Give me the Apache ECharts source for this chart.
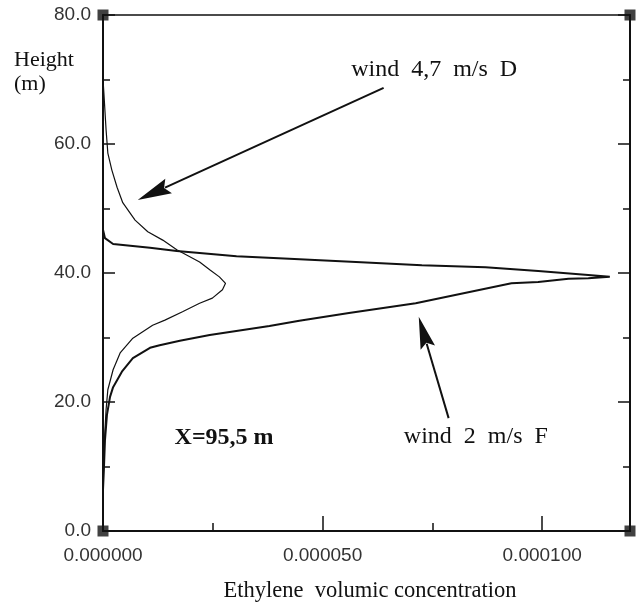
<!DOCTYPE html>
<html>
<head>
<meta charset="utf-8">
<script src="https://cdn.jsdelivr.net/npm/echarts@6/dist/echarts.min.js"></script>
<style>
html,body{margin:0;padding:0;background:#fff;}
#c{width:640px;height:605px;}
</style>
</head>
<body>
<div id="c"></div>
<script>
// ---- data (x = ethylene volumic concentration, y = height in m) ----
const xMin = 0, xMax = 0.00012, xMajor = 0.00005, xMinor = 0.000025;
const yMin = 0, yMax = 80, yMajor = 20;

// wind 2 m/s, stability F
const windF = [
  [0, 80], [0, 46.7], [0.00000045, 45.4], [0.0000023, 44.5], [0.0000107, 43.9],
  [0.0000168, 43.4], [0.000022, 43.1], [0.0000304, 42.6], [0.0000424, 42.2],
  [0.0000576, 41.7], [0.0000726, 41.2], [0.0000871, 40.9], [0.0000991, 40.3],
  [0.0001105, 39.7], [0.0001154, 39.4], [0.0001105, 39.2], [0.000106, 39.1],
  [0.0000991, 38.6], [0.000093, 38.4], [0.0000712, 35.3], [0.000056, 33.8],
  [0.0000447, 32.6], [0.0000379, 31.8], [0.0000243, 30.4], [0.0000175, 29.5],
  [0.0000129, 28.8], [0.0000107, 28.4], [0.0000068, 26.8], [0.0000043, 24.7],
  [0.0000023, 22.3], [0.0000016, 20.8], [0.0000009, 18.0], [0.00000045, 14.1],
  [0.0000002, 9.5], [0, 6.4], [0, 0]
];

// wind 4,7 m/s, stability D
const windD = [
  [0, 80], [0, 70], [0.0000002, 67.9], [0.0000007, 62.2], [0.0000011, 58.6],
  [0.000002, 56.0], [0.0000032, 53.3], [0.0000045, 50.9], [0.0000073, 48.2],
  [0.0000102, 46.4], [0.0000136, 45.1], [0.0000168, 43.6], [0.000022, 41.7],
  [0.0000243, 40.5], [0.0000265, 39.4], [0.0000279, 38.4], [0.0000272, 37.4],
  [0.0000249, 36.1], [0.000022, 35.3], [0.0000181, 34.0], [0.0000141, 32.7],
  [0.0000113, 31.9], [0.0000068, 29.9], [0.0000039, 27.6], [0.0000023, 25.0],
  [0.0000011, 21.9], [0.0000007, 18.8], [0.0000002, 12.6], [0, 7.9], [0, 0]
];

const corners = [[xMin, yMin], [xMin, yMax], [xMax, yMin], [xMax, yMax]];

// annotation anchors (data coords)
const arrowD = { from: [0.0000639, 68.7], to: [0.0000079, 51.3] };
const arrowF = { from: [0.0000787, 17.5], to: [0.0000719, 33.2] };
const textD = { pos: [0.0000565, 71.5], text: 'wind\u20024,7\u2002m/s\u2002D' };
const textF = { pos: [0.0000685, 14.6], text: 'wind\u20022\u2002m/s\u2002F' };
const textX = { pos: [0.0000163, 14.4], text: 'X=95,5 m' };

const ink = '#111';
const tickFont = { fontFamily: 'Liberation Sans', fontSize: 19, color: '#333' };

const chart = echarts.init(document.getElementById('c'), null, { renderer: 'canvas' });

function yAx(pos, labels) {
  return {
    type: 'value', min: yMin, max: yMax, interval: yMajor, position: pos,
    axisLine: { show: true, onZero: false, lineStyle: { color: ink, width: 2 } },
    axisTick: { show: true, inside: true, length: 12, lineStyle: { color: ink, width: 1.5 } },
    minorTick: { show: true, splitNumber: 2, length: 7, lineStyle: { color: ink, width: 1.5 } },
    axisLabel: labels ? Object.assign({ margin: 12, formatter: v => v.toFixed(1) }, tickFont) : { show: false },
    splitLine: { show: false }
  };
}

const option = {
  backgroundColor: '#fff',
  animation: false,
  grid: { left: 103, right: 10, top: 15, bottom: 74, show: true, borderColor: ink, borderWidth: 1.5, backgroundColor: 'transparent' },
  xAxis: [
    {
      type: 'value', min: xMin, max: xMax, interval: xMajor, position: 'bottom',
      axisLine: { show: true, onZero: false, lineStyle: { color: ink, width: 2 } },
      axisTick: { show: true, inside: true, length: 15, lineStyle: { color: ink, width: 1.5 } },
      axisLabel: Object.assign({ margin: 15, showMaxLabel: false, formatter: v => v.toFixed(6) }, tickFont),
      splitLine: { show: false }
    },
    {
      type: 'value', min: xMin, max: xMax, interval: xMinor, position: 'bottom', gridIndex: 0,
      axisLine: { show: false, onZero: false },
      axisTick: { show: true, inside: true, length: 8, lineStyle: { color: ink, width: 1.5 } },
      axisLabel: { show: false }, splitLine: { show: false }
    }
  ],
  yAxis: [yAx('left', true), yAx('right', false)],
  series: [
    {
      name: 'wind 2 m/s F', type: 'line', data: windF, showSymbol: false, smooth: false,
      lineStyle: { color: ink, width: 2 }, z: 3
    },
    {
      name: 'wind 4,7 m/s D', type: 'line', data: windD, showSymbol: false, smooth: false,
      lineStyle: { color: ink, width: 1.2 }, z: 3
    },
    {
      name: 'corners', type: 'scatter', data: corners, symbol: 'rect', symbolSize: 11,
      itemStyle: { color: ink }, clip: false, z: 5, silent: true
    }
  ]
};
chart.setOption(option);

function px(p) { return chart.convertToPixel({ gridIndex: 0 }, p); }

function arrow(a, headLen, headHalf, width) {
  const s = px(a.from), t = px(a.to);
  const dx = t[0] - s[0], dy = t[1] - s[1];
  const L = Math.hypot(dx, dy), ux = dx / L, uy = dy / L;
  const bx = t[0] - ux * headLen, by = t[1] - uy * headLen;
  const nx = -uy, ny = ux;
  return [
    { type: 'line', shape: { x1: s[0], y1: s[1], x2: bx + ux * 4, y2: by + uy * 4 }, style: { stroke: ink, lineWidth: width }, z: 10 },
    { type: 'polygon', shape: { points: [t, [bx + nx * headHalf, by + ny * headHalf], [bx + ux * 5, by + uy * 5], [bx - nx * headHalf, by - ny * headHalf]] }, style: { fill: ink }, z: 10 }
  ];
}

function label(o, font) {
  const p = px(o.pos);
  return { type: 'text', x: p[0], y: p[1], style: { text: o.text, font: font, fill: ink, textVerticalAlign: 'middle', textAlign: 'left' }, z: 10 };
}

const graphics = []
  .concat(arrow(arrowD, 34, 8, 2))
  .concat(arrow(arrowF, 32, 7.5, 2))
  .concat([
    label(textD, '24px "Liberation Serif"'),
    label(textF, '24px "Liberation Serif"'),
    label(textX, 'bold 24px "Liberation Serif"'),
    { type: 'text', x: 14, y: 48, style: { text: 'Height\n(m)', font: '22px "Liberation Serif"', fill: ink, lineHeight: 24 }, z: 10 },
    { type: 'text', x: 370, y: 591, style: { text: 'Ethylene  volumic concentration', font: '22.5px "Liberation Serif"', fill: ink, textAlign: 'center', textVerticalAlign: 'middle' }, z: 10 }
  ]);

chart.setOption({ graphic: graphics });
</script>
</body>
</html>
